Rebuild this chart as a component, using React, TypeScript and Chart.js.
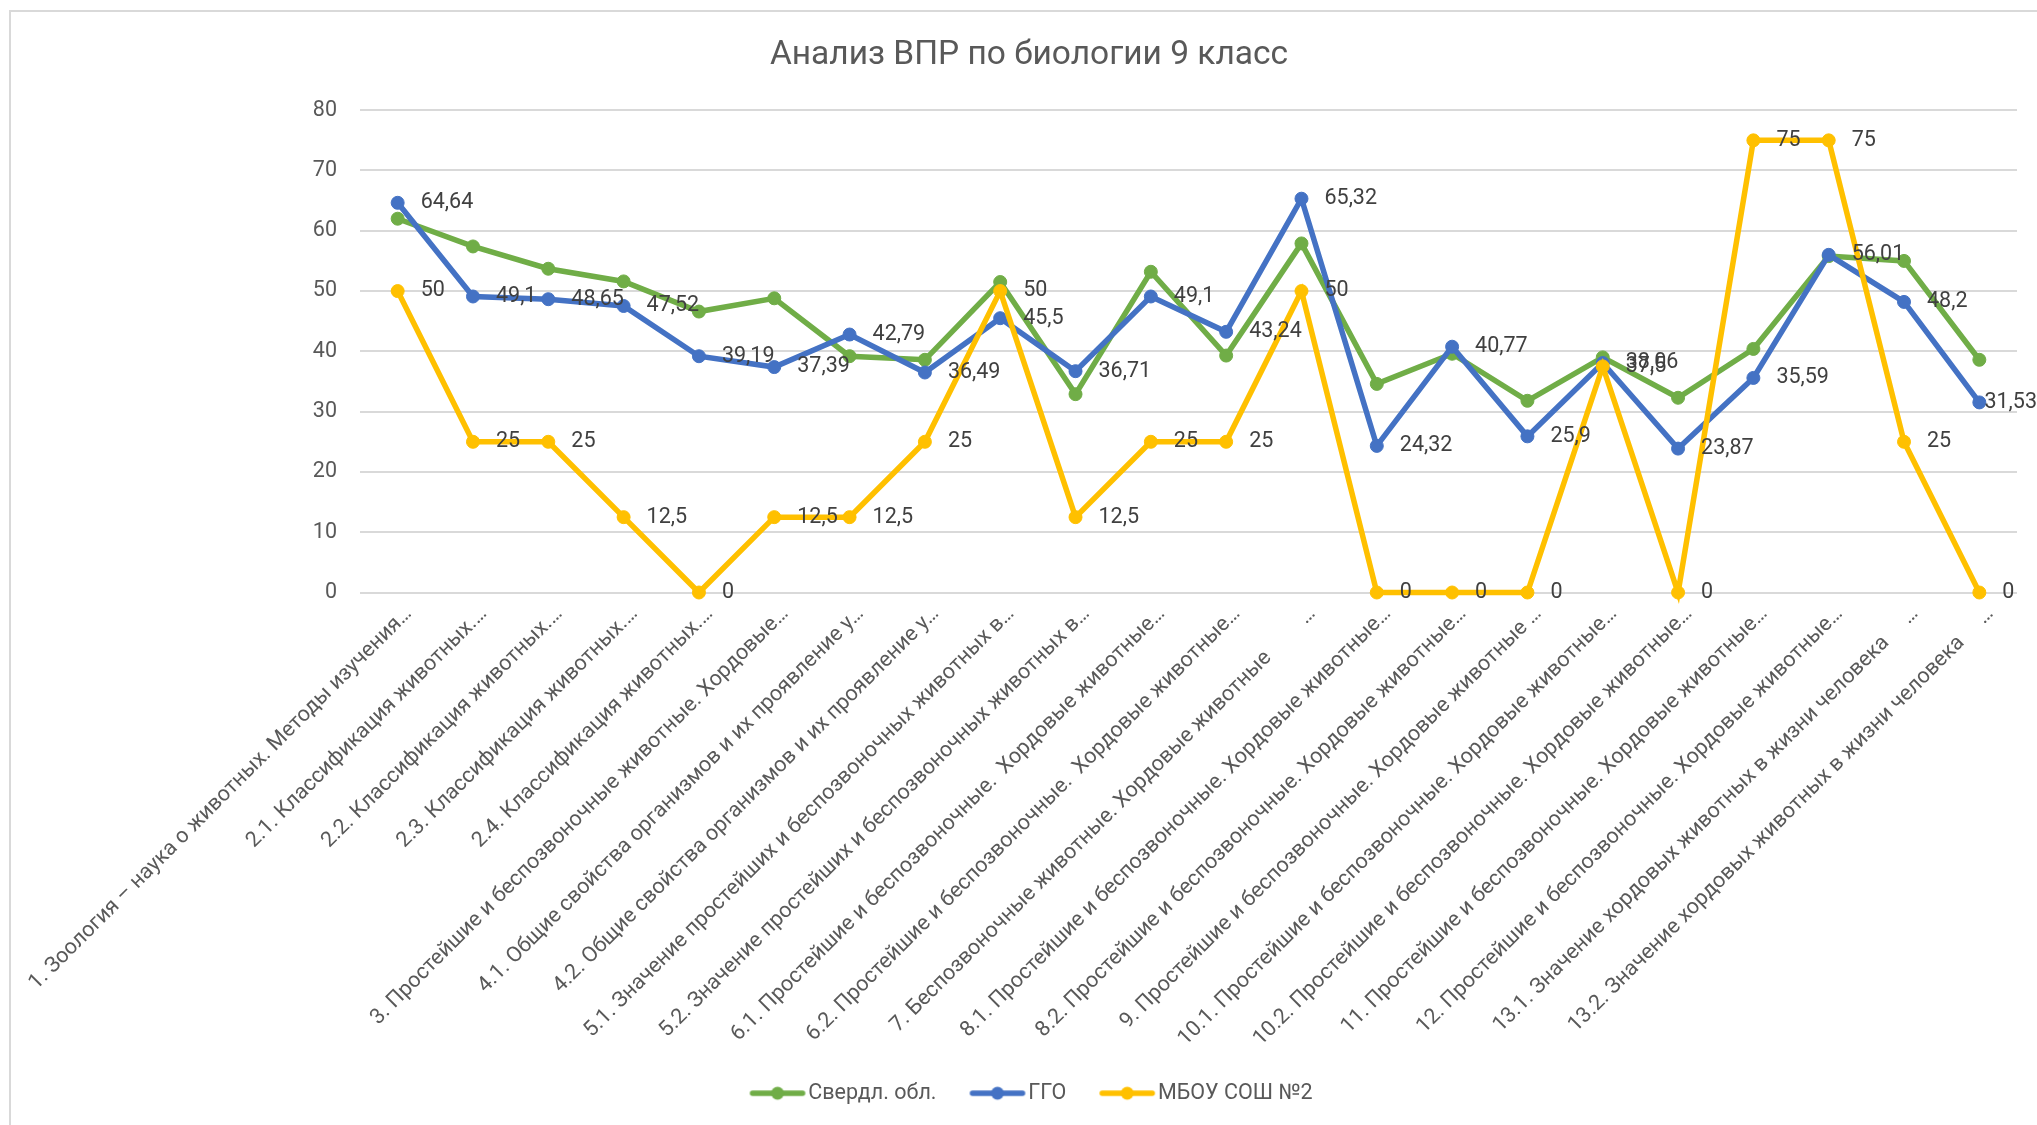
import React, { useEffect, useRef } from 'react';
import { Chart, registerables } from 'chart.js';

Chart.register(...registerables);

const TITLE = 'Анализ ВПР по биологии 9 класс';

const categories = [
  '1. Зоология – наука о животных. Методы изучения…',
  '2.1. Классификация животных.…',
  '2.2. Классификация животных.…',
  '2.3. Классификация животных.…',
  '2.4. Классификация животных.…',
  '3. Простейшие и беспозвоночные животные. Хордовые…',
  '4.1. Общие свойства организмов и их проявление у…',
  '4.2. Общие свойства организмов и их проявление у…',
  '5.1. Значение простейших и беспозвоночных животных в…',
  '5.2. Значение простейших и беспозвоночных животных в…',
  '6.1. Простейшие и беспозвоночные.  Хордовые животные…',
  '6.2. Простейшие и беспозвоночные.  Хордовые животные…',
  '7. Беспозвоночные животные. Хордовые животные         …',
  '8.1. Простейшие и беспозвоночные. Хордовые животные…',
  '8.2. Простейшие и беспозвоночные. Хордовые животные…',
  '9. Простейшие и беспозвоночные. Хордовые животные …',
  '10.1. Простейшие и беспозвоночные. Хордовые животные…',
  '10.2. Простейшие и беспозвоночные. Хордовые животные…',
  '11. Простейшие и беспозвоночные. Хордовые животные…',
  '12. Простейшие и беспозвоночные. Хордовые животные…',
  '13.1. Значение хордовых животных в жизни человека     …',
  '13.2. Значение хордовых животных в жизни человека     …',
];

const seriesNames = ['Свердл. обл.', 'ГГО', 'МБОУ СОШ №2'];

const sverdl = [62.0, 57.4, 53.7, 51.6, 46.6, 48.8, 39.2, 38.6, 51.5, 32.9, 53.2, 39.3, 57.9, 34.6, 39.6, 31.8, 39.0, 32.3, 40.4, 55.8, 55.0, 38.6];
const ggo = [64.64, 49.1, 48.65, 47.52, 39.19, 37.39, 42.79, 36.49, 45.5, 36.71, 49.1, 43.24, 65.32, 24.32, 40.77, 25.9, 38.06, 23.87, 35.59, 56.01, 48.2, 31.53];
const mbou = [50, 25, 25, 12.5, 0, 12.5, 12.5, 25, 50, 12.5, 25, 25, 50, 0, 0, 0, 37.5, 0, 75, 75, 25, 0];

const yMin = 0;
const yMax = 80;
const yStep = 10;

const seriesColors = ['#70AD47', '#4472C4', '#FFC000'];
const labeledSeries = [1, 2];

const FONT = 'Roboto';
const TEXT_SIZE = 21.5;

function makeMarker(color: string) {
  const c = document.createElement('canvas');
  c.width = 58;
  c.height = 16;
  const ctx = c.getContext('2d')!;
  ctx.strokeStyle = color;
  ctx.lineWidth = 5.5;
  ctx.lineCap = 'round';
  ctx.beginPath();
  ctx.moveTo(4, 8);
  ctx.lineTo(54, 8);
  ctx.stroke();
  ctx.fillStyle = color;
  ctx.beginPath();
  ctx.arc(29, 8, 6.5, 0, Math.PI * 2);
  ctx.fill();
  return c;
}

const valueLabels = {
  id: 'valueLabels',
  afterDatasetsDraw(chart: any) {
    const ctx = chart.ctx;
    ctx.save();
    ctx.font = `${TEXT_SIZE}px ${FONT}`;
    ctx.fillStyle = '#404040';
    ctx.textBaseline = 'middle';
    ctx.textAlign = 'left';
    const maxRight = chart.width - 10;
    labeledSeries.forEach((di) => {
      const meta = chart.getDatasetMeta(di);
      const data = chart.data.datasets[di].data;
      meta.data.forEach((pt: any, i: number) => {
        const txt = String(data[i]).replace('.', ',');
        const w = ctx.measureText(txt).width;
        const x = Math.min(pt.x + 23, maxRight - w);
        ctx.fillText(txt, x, pt.y);
      });
    });
    ctx.restore();
  },
};

const legendShift = {
  id: 'legendShift',
  afterLayout(chart: any) {
    const lg = chart.legend;
    if (lg) {
      lg.left += 6;
      lg.right += 6;
    }
  },
};

export default function App() {
  const ref = useRef<HTMLCanvasElement | null>(null);

  useEffect(() => {
    const markers = seriesColors.map(makeMarker);
    const seriesData = [sverdl, ggo, mbou];
    const chart = new Chart(ref.current!, {
      type: 'line',
      data: {
        labels: categories,
        datasets: seriesData.map((d, i) => ({
          label: seriesNames[i],
          data: d,
          borderColor: seriesColors[i],
          backgroundColor: seriesColors[i],
          pointBackgroundColor: seriesColors[i],
          pointBorderColor: seriesColors[i],
          borderWidth: 5.5,
          pointRadius: 6.5,
          pointBorderWidth: 1,
          tension: 0,
          fill: false,
          order: 3 - i,
          clip: false as any,
        })),
      },
      options: {
        responsive: false,
        animation: false,
        devicePixelRatio: 1,
        layout: { padding: { left: 30, right: 30, top: 0, bottom: 0 } },
        plugins: {
          tooltip: { enabled: false },
          title: {
            display: true,
            text: TITLE,
            color: '#595959',
            font: { family: FONT, size: 33.5, weight: 'normal' as any },
            padding: { top: 24, bottom: 34 },
          },
          legend: {
            position: 'bottom',
            labels: {
              usePointStyle: true,
              pointStyleWidth: 40,
              padding: 41,
              color: '#595959',
              font: { family: FONT, size: TEXT_SIZE },
              generateLabels: (ch: any) =>
                ch.data.datasets.map((ds: any, i: number) => ({
                  text: ds.label,
                  pointStyle: markers[i],
                  fillStyle: seriesColors[i],
                  strokeStyle: seriesColors[i],
                  lineWidth: 0,
                  hidden: false,
                  datasetIndex: i,
                  fontColor: '#595959',
                })),
            },
          },
        },
        scales: {
          x: {
            offset: true,
            grid: { display: false, drawTicks: false, offset: true },
            border: { display: false },
            ticks: {
              autoSkip: false,
              minRotation: 45,
              maxRotation: 45,
              color: '#595959',
              font: { family: FONT, size: TEXT_SIZE },
              padding: 9,
              labelOffset: 11,
            },
            afterFit: (s: any) => {
              s.height = 449;
              s.paddingLeft = 0;
              s.paddingRight = 0;
            },
          },
          y: {
            min: yMin,
            max: yMax,
            grid: { color: '#D9D9D9', lineWidth: 2, drawTicks: false },
            border: { display: false },
            ticks: {
              stepSize: yStep,
              color: '#595959',
              font: { family: FONT, size: TEXT_SIZE },
              padding: 23,
            },
            afterFit: (s: any) => {
              s.width = 319;
            },
          },
        },
      },
      plugins: [valueLabels, legendShift],
    });
    return () => chart.destroy();
  }, []);

  return (
    <div
      style={{
        position: 'fixed',
        left: 9,
        top: 10,
        width: 2100,
        height: 1200,
        border: '2px solid #D9D9D9',
        background: '#ffffff',
      }}
    >
      <canvas ref={ref} width={2036} height={1102} style={{ display: 'block', width: 2036, height: 1102 }} />
    </div>
  );
}
